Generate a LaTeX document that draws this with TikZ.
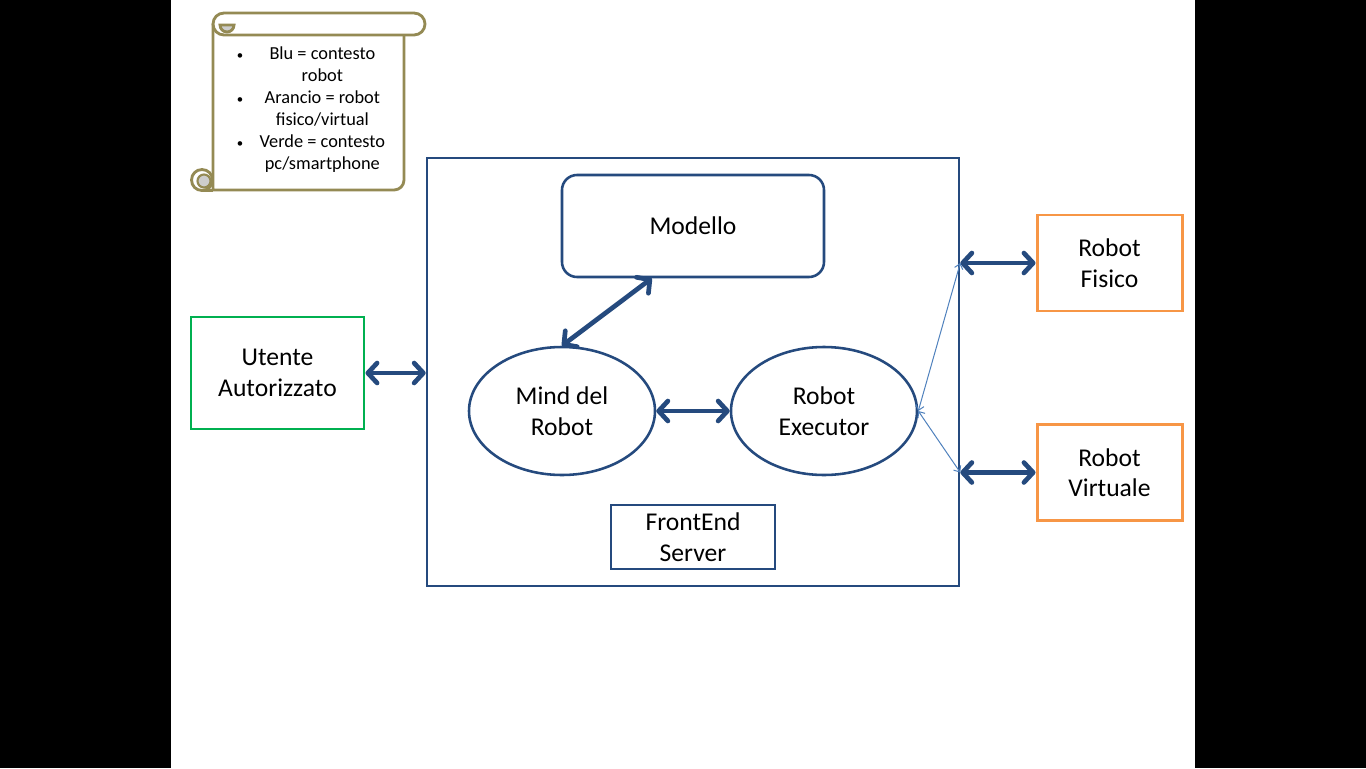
\documentclass[tikz,border=0pt]{standalone}
\usepackage{fontspec}
\setmainfont{Carlito}
\usetikzlibrary{arrows.meta, shapes.geometric, calc}
\definecolor{scuro}{HTML}{254A7E}
\definecolor{chiaro}{HTML}{4F81BD}
\definecolor{verde}{HTML}{00B050}
\definecolor{arancio}{HTML}{F79646}
\definecolor{oliva}{HTML}{948A54}
\definecolor{grigio}{HTML}{CDCDCD}
\newlength\px
\setlength\px{0.7031pt}

\begin{document}
\begin{tikzpicture}[x=1\px, y=-1\px,
    testo/.style={align=center, text=black, font=\fontsize{18}{21.5}\selectfont},
    bordo/.style={draw=scuro, line width=1.8pt, testo},
    bordoverde/.style={draw=verde, line width=2.1pt, testo},
    bordoarancio/.style={draw=arancio, line width=2.1pt, testo, minimum width=145\px, minimum height=96\px},
    freccia/.style={draw=scuro, line width=3.3pt, {Straight Barb[length=6.5pt, width=14pt, round]}-{Straight Barb[length=6.5pt, width=14pt, round]}},
    sottile/.style={draw=chiaro, line width=0.7pt, {Straight Barb[length=3.5pt, width=6pt]}-{Straight Barb[length=3.5pt, width=6pt]}},
    rotolo/.style={draw=oliva, line width=2pt, fill=white, line join=round}]

    % --- sfondo ---
    \useasboundingbox (0,0) rectangle (1366,768);
    \fill[black] (0,0) rectangle (1366,768);
    \fill[white] (171,0) rectangle (1195,768);

    % --- legenda (pergamena) ---
    \draw[rotolo] (213,24) -- (213,190) -- (394,190) arc[start angle=90, end angle=0, radius=10] -- (404,24) -- cycle;
    \draw[rotolo] (224,13) -- (414,13) arc[start angle=-90, end angle=90, radius=11] -- (224,35) arc[start angle=90, end angle=270, radius=11] -- cycle;
    \filldraw[fill=grigio, draw=oliva, line width=2pt] (220,25) -- (234,25) arc[start angle=0, end angle=180, radius=7] -- cycle;
    \draw[rotolo] (202,180) circle[radius=10.5];
    \filldraw[fill=grigio, draw=oliva, line width=1.5pt] (204,181) circle[radius=6.5];
    \draw[oliva, line width=2pt] (202,190.5) -- (213,190.5);
    \node[font=\fontsize{12.9}{15.5}\selectfont] (legenda) at (311,110) {%
        \begin{tabular}{@{}c@{\hspace{11.5pt}}c@{}}
        {\small\textbullet} & Blu = contesto\\
                    & robot\\
        {\small\textbullet} & Arancio = robot\\
                    & fisico/virtual\\
        {\small\textbullet} & Verde = contesto\\
                    & pc/smartphone
        \end{tabular}};

    % --- FrontEnd Server ---
    \node[bordo, minimum width=532\px, minimum height=428\px] (server) at (693,372) {};
    \node[bordo, rounded corners=15\px, minimum width=262\px, minimum height=102\px] (modello) at (693,226) {Modello};
    \node[bordo, ellipse, inner sep=0pt, minimum width=186\px, minimum height=128\px] (mind) at (562,411) {Mind del\\Robot};
    \node[bordo, ellipse, inner sep=0pt, minimum width=186\px, minimum height=128\px] (executor) at (824,411) {Robot\\Executor};
    \node[bordo, minimum width=164\px, minimum height=64\px] (fe) at (693,537) {FrontEnd\\Server};

    % --- utente e robot ---
    \node[bordoverde, minimum width=173\px, minimum height=112\px] (utente) at (277.5,373) {Utente\\Autorizzato};
    \node[bordoarancio] (fisico) at (1109.5,263) {Robot\\Fisico};
    \node[bordoarancio] (virtuale) at (1109.5,472.5) {Robot\\Virtuale};

    % --- frecce ---
    \draw[freccia] (utente) -- (server.west |- utente);
    \draw[freccia] (mind.north) -- ($(modello.south west)!0.344!(modello.south east)$);
    \draw[freccia] (mind) -- (executor);
    \draw[freccia] (server.east |- fisico) -- (fisico);
    \draw[freccia] (server.east |- virtuale) -- (virtuale);
    \draw[sottile] (executor.east) -- (server.east |- fisico);
    \draw[sottile] (executor.east) -- (server.east |- virtuale);

\end{tikzpicture}
\end{document}
